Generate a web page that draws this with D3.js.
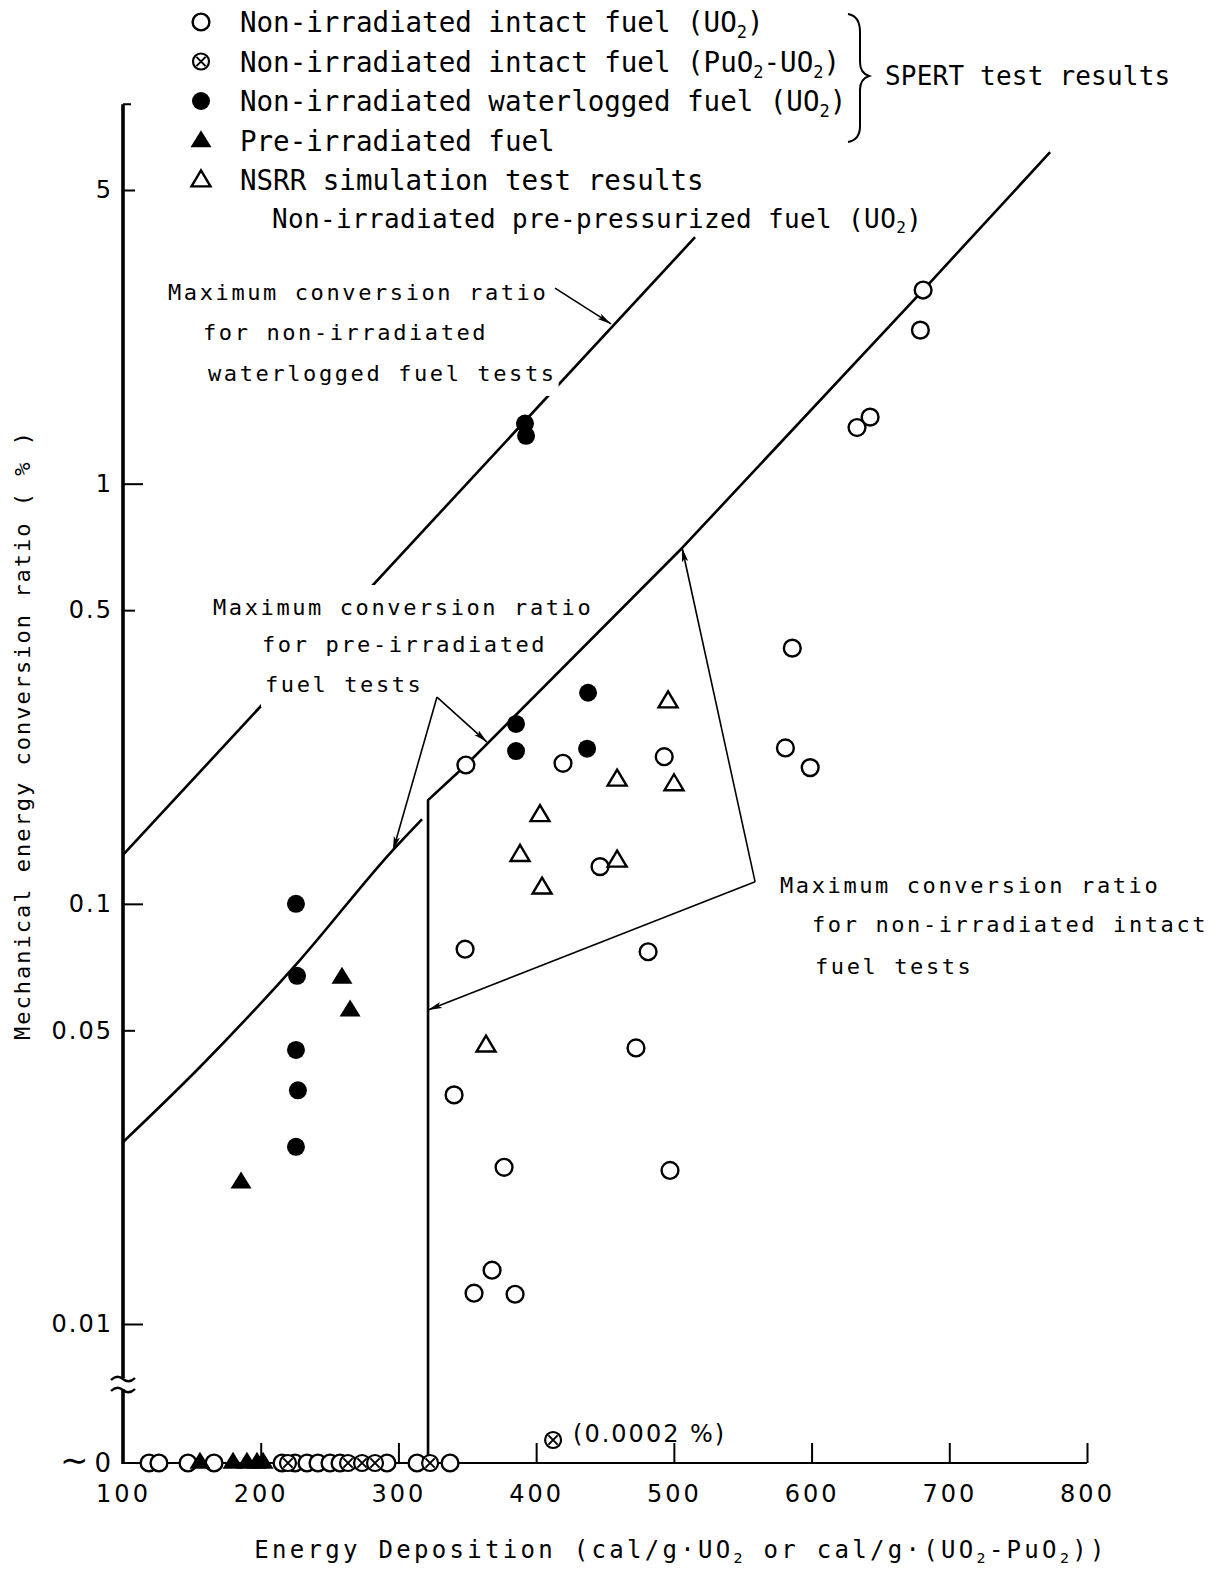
<!DOCTYPE html>
<html>
<head>
<meta charset="utf-8">
<script src="https://cdn.jsdelivr.net/npm/d3@7"></script>
<style>
  body { margin: 0; background: #fff; }
  svg { display: block; }
</style>
</head>
<body>
<svg id="chart" width="1224" height="1572"></svg>
<script>
// ---------------- data ----------------
const xTicks = [100, 200, 300, 400, 500, 600, 700, 800];
const yTicks = [5, 1, 0.5, 0.1, 0.05, 0.01];
const yTickLabels = ["5", "1", "0.5", "0.1", "0.05", "0.01"];
const yMinorTicks = [5, 0.5, 0.05];

// SPERT – non-irradiated intact fuel (UO2): [energy deposition, conversion ratio %]
const intactUO2 = [
  [681, 2.89], [679, 2.32], [642.5, 1.44], [633, 1.36], [586, 0.406],
  [581, 0.235], [599, 0.211], [493, 0.224], [419.5, 0.216], [349, 0.214],
  [446.4, 0.1226], [348.4, 0.078], [481.3, 0.0769], [472.5, 0.0454],
  [340.4, 0.0351], [376.7, 0.0236], [497.2, 0.0232], [368, 0.01343],
  [354.9, 0.01184], [384.7, 0.01177]
];
// tests with ~0 conversion ratio (energy deposition only)
const intactUO2Zero = [118.9, 126.1, 147.2, 166.1, 215.5, 224.9, 233.6, 241.6, 250.3, 257.6, 291.7, 313.5, 337.5];

// SPERT – non-irradiated intact fuel (PuO2-UO2)
const intactPuZero = [219.8, 263.4, 273.6, 283, 323];
const intactPuLow = [[412.3, 0.0002]];

// SPERT – non-irradiated waterlogged fuel (UO2)
const waterlogged = [
  [391.9, 1.39], [392.7, 1.30], [437.7, 0.318], [385.4, 0.268], [385.4, 0.231],
  [437, 0.234], [225.6, 0.1], [226.4, 0.0674], [225.6, 0.0449], [227, 0.036], [225.6, 0.0264]
];

// SPERT – pre-irradiated fuel
const preIrradiated = [[259, 0.067], [264.9, 0.056], [185.7, 0.0218]];
const preIrradiatedZero = [155.9, 179.9, 190, 197.3, 201.7];

// NSRR simulation tests – non-irradiated pre-pressurized fuel (UO2)
const nsrr = [
  [495.8, 0.304], [458.8, 0.198], [500.1, 0.193], [402.8, 0.163],
  [388.3, 0.131], [458.8, 0.127], [404.3, 0.1096], [363.6, 0.0461]
];

// envelope curves of maximum conversion ratio
const envWaterlogged = [[100, 0.1307], [515.4, 3.86]];
const envPreIrradiated = [[100, 0.0271], [155.9, 0.0409], [228.5, 0.0735], [296, 0.1343], [317.1, 0.159]];
const envIntact = [[321.5, 0], [321.5, 0.1765], [349.1, 0.214], [506, 0.703], [681, 2.89], [773.2, 6.15]];

// text
const legendLabels = [
  "Non-irradiated intact fuel (UO₂)",
  "Non-irradiated intact fuel (PuO₂-UO₂)",
  "Non-irradiated waterlogged fuel (UO₂)",
  "Pre-irradiated fuel",
  "NSRR simulation test results"
];
const legendSubLabel = "Non-irradiated pre-pressurized fuel (UO₂)";
const braceLabel = "SPERT test results";
const noteWaterlogged = ["Maximum conversion ratio", "for non-irradiated", "waterlogged fuel tests"];
const notePreIrradiated = ["Maximum conversion ratio", "for pre-irradiated", "fuel tests"];
const noteIntact = ["Maximum conversion ratio", "for non-irradiated intact", "fuel tests"];
const lowPointLabel = "(0.0002 %)";
const xTitle = "Energy Deposition (cal/g·UO₂ or cal/g·(UO₂-PuO₂))";
const yTitle = "Mechanical energy conversion ratio ( % )";

// ---------------- scales ----------------
const svg = d3.select("#chart");
const x = d3.scaleLinear().domain([100, 800]).range([123, 1087]);
const yLog = d3.scaleLog().domain([0.01, 5]).range([1324, 190]);
const yZero = d3.scaleLinear().domain([0, 0.0002]).range([1463, 1440]);
const breakValue = 0.001;
const yPos = v => (v < breakValue ? yZero(v) : yLog(v));
const yAxisTop = 8;

const ink = "#000";
const monoFont = "'DejaVu Sans Mono', 'Liberation Mono', monospace";
const numFont = "'DejaVu Sans', 'Liberation Sans', sans-serif";

// text with subscript "2"
function rich(sel, str, size) {
  const parts = str.split("₂");
  const shift = size * 0.22;
  parts.forEach((p, i) => {
    if (p) sel.append("tspan").attr("dy", i > 0 ? -shift : 0).text(p);
    else if (i > 0) sel.append("tspan").attr("dy", -shift).text("");
    if (i < parts.length - 1) {
      sel.append("tspan").attr("font-size", size * 0.62).attr("dy", shift).text("2");
    }
  });
  return sel;
}

function addText(parent, str, px, py, size, spacing, anchor) {
  const t = parent.append("text")
    .attr("x", px).attr("y", py)
    .attr("font-family", monoFont)
    .attr("font-size", size)
    .attr("letter-spacing", spacing)
    .attr("text-anchor", anchor || "start")
    .attr("fill", ink);
  return rich(t, str, size);
}

// ---------------- axes ----------------
const breakTop = yLog(0.01) + 54;
const breakBottom = breakTop + 11;
const x0 = x(100);

// x axis along the ~0 level
svg.append("line")
  .attr("x1", x0).attr("x2", x(800))
  .attr("y1", yZero(0)).attr("y2", yZero(0))
  .attr("stroke", ink).attr("stroke-width", 2.2);

const xAxis = d3.axisBottom(x).tickValues(xTicks).tickSize(-20).tickPadding(22).tickFormat(d3.format("d"));
const gx = svg.append("g").attr("transform", `translate(0,${yZero(0)})`).call(xAxis);
gx.select(".domain").remove();
gx.selectAll(".tick line").attr("stroke", ink).attr("stroke-width", 2);
gx.selectAll(".tick").filter(d => d === 100).select("line").remove();
gx.selectAll(".tick text")
  .attr("font-family", numFont).attr("font-size", 24).attr("letter-spacing", 3)
  .attr("fill", ink);

// y axis (log, with a break above the ~0 level)
const yAxis = d3.axisLeft(yLog).tickValues(yTicks)
  .tickFormat((d, i) => yTickLabels[i]).tickSize(-20).tickPadding(10);
const gy = svg.append("g").attr("transform", `translate(${x0},0)`).call(yAxis);
gy.select(".domain").remove();
gy.selectAll(".tick line").attr("stroke", ink).attr("stroke-width", 2);
gy.selectAll(".tick").filter(d => yMinorTicks.includes(d)).select("line").attr("x2", 12);
gy.selectAll(".tick text")
  .attr("font-family", numFont).attr("font-size", 24).attr("letter-spacing", 2)
  .attr("fill", ink);

svg.append("line")
  .attr("x1", x0).attr("x2", x0)
  .attr("y1", yLog(yAxisTop)).attr("y2", breakTop)
  .attr("stroke", ink).attr("stroke-width", 3.6);
svg.append("line")
  .attr("x1", x0).attr("x2", x0)
  .attr("y1", breakBottom).attr("y2", yZero(0) + 1)
  .attr("stroke", ink).attr("stroke-width", 3.6);
svg.append("line")
  .attr("x1", x0).attr("x2", x0 + 8)
  .attr("y1", yLog(yAxisTop)).attr("y2", yLog(yAxisTop))
  .attr("stroke", ink).attr("stroke-width", 2);
[breakTop, breakBottom].forEach(by => {
  svg.append("path")
    .attr("d", `M${x0 - 12},${by + 2} q6,-6 12,-1 t12,-1`)
    .attr("fill", "none").attr("stroke", ink).attr("stroke-width", 2.4);
});

// "~ 0" label for the zero level
const zl = svg.append("text")
  .attr("x", x0 - 12).attr("y", yZero(0) + 9)
  .attr("text-anchor", "end")
  .attr("font-family", numFont).attr("font-size", 26).attr("fill", ink);
zl.append("tspan").attr("font-size", 34).text("∼");
zl.append("tspan").attr("dx", 6).text("0");

// axis titles
addText(svg, xTitle, 681, 1558, 24, 3.3, "middle");
svg.append("text")
  .attr("transform", `translate(30,735) rotate(-90)`)
  .attr("font-family", monoFont).attr("font-size", 22)
  .attr("letter-spacing", 2).attr("text-anchor", "middle")
  .attr("fill", ink).text(yTitle);

// ---------------- envelope curves ----------------
const lineStraight = d3.line().x(d => x(d[0])).y(d => yPos(d[1]));
const lineSmooth = d3.line().x(d => x(d[0])).y(d => yPos(d[1])).curve(d3.curveMonotoneX);
[[envWaterlogged, lineStraight], [envPreIrradiated, lineSmooth], [envIntact, lineStraight]].forEach(([env, gen]) => {
  svg.append("path").attr("d", gen(env))
    .attr("fill", "none").attr("stroke", ink)
    .attr("stroke-width", 2.6).attr("stroke-linejoin", "round");
});

// ---------------- notes (on a white ground that interrupts the curves) ----------------
function note(lines, xs, ys) {
  const g = svg.append("g");
  lines.forEach((s, i) => {
    const t = addText(g, s, xs[i], ys[i], 22, 2.6);
    const b = t.node().getBBox();
    g.insert("rect", "text")
      .attr("x", b.x - 4).attr("y", b.y - 10)
      .attr("width", b.width + 6).attr("height", b.height + 20)
      .attr("fill", "#fff");
  });
}
note(noteWaterlogged, [168, 203, 208], [300, 340, 381]);
note(notePreIrradiated, [213, 262, 265], [615, 652, 692]);
note(noteIntact, [780, 812, 815], [893, 932, 974]);

// ---------------- annotation leaders ----------------
svg.append("defs").append("marker")
  .attr("id", "arrow").attr("viewBox", "-14 -4 16 8")
  .attr("refX", 0).attr("refY", 0)
  .attr("markerWidth", 16).attr("markerHeight", 8)
  .attr("markerUnits", "userSpaceOnUse").attr("orient", "auto")
  .append("path").attr("d", "M0,0L-14,-3.2L-11,0L-14,3.2Z").attr("fill", ink);

const leaders = [
  [[413.7, 2.92], [454.4, 2.40]],
  [[328, 0.3105], [296.1, 0.134]],
  [[328, 0.3105], [364.3, 0.2427]],
  [[559, 0.1128], [506, 0.703]],
  [[559, 0.1128], [321.5, 0.0559]]
];
leaders.forEach(([a, b]) => {
  svg.append("line")
    .attr("x1", x(a[0])).attr("y1", yPos(a[1]))
    .attr("x2", x(b[0])).attr("y2", yPos(b[1]))
    .attr("stroke", ink).attr("stroke-width", 1.6)
    .attr("marker-end", "url(#arrow)");
});

// ---------------- markers ----------------
const triPath = (w, h) => `M0,${-h * 0.6}L${w / 2},${h * 0.4}L${-w / 2},${h * 0.4}Z`;

function openCircle(g, px, py) {
  g.append("circle").attr("cx", px).attr("cy", py).attr("r", 8.4)
    .attr("fill", "#fff").attr("stroke", ink).attr("stroke-width", 2.4);
}
function filledCircle(g, px, py) {
  g.append("circle").attr("cx", px).attr("cy", py).attr("r", 9).attr("fill", ink);
}
function crossCircle(g, px, py) {
  g.append("circle").attr("cx", px).attr("cy", py).attr("r", 8)
    .attr("fill", "#fff").attr("stroke", ink).attr("stroke-width", 2.2);
  const k = 4.6;
  g.append("path")
    .attr("d", `M${px - k},${py - k}L${px + k},${py + k}M${px + k},${py - k}L${px - k},${py + k}`)
    .attr("stroke", ink).attr("stroke-width", 2);
}
function filledTriangle(g, px, py) {
  g.append("path").attr("d", triPath(21, 17)).attr("transform", `translate(${px},${py})`).attr("fill", ink);
}
function openTriangle(g, px, py) {
  g.append("path").attr("d", triPath(19, 16)).attr("transform", `translate(${px},${py})`)
    .attr("fill", "#fff").attr("stroke", ink).attr("stroke-width", 2.4).attr("stroke-linejoin", "miter");
}

const marks = svg.append("g");
intactUO2.forEach(d => openCircle(marks, x(d[0]), yPos(d[1])));
waterlogged.forEach(d => filledCircle(marks, x(d[0]), yPos(d[1])));
preIrradiated.forEach(d => filledTriangle(marks, x(d[0]), yPos(d[1])));
nsrr.forEach(d => openTriangle(marks, x(d[0]), yPos(d[1])));
intactPuLow.forEach(d => crossCircle(marks, x(d[0]), yPos(d[1])));

const zeroRow = svg.append("g");
intactUO2Zero.forEach(v => openCircle(zeroRow, x(v), yPos(0)));
intactPuZero.forEach(v => crossCircle(zeroRow, x(v), yPos(0)));
preIrradiatedZero.forEach(v => filledTriangle(zeroRow, x(v), yPos(0) - 1));

svg.append("text")
  .attr("x", x(intactPuLow[0][0]) + 20).attr("y", yPos(intactPuLow[0][1])).attr("dy", "0.1em")
  .attr("font-family", numFont).attr("font-size", 24).attr("letter-spacing", 2)
  .attr("fill", ink).text(lowPointLabel);

// ---------------- legend ----------------
const legendDraw = [openCircle, crossCircle, filledCircle, filledTriangle, openTriangle];
legendLabels.forEach((s, i) => {
  const ly = 22 + i * 39.5;
  legendDraw[i](svg, 201, ly);
  addText(svg, s, 240, ly + 10, 27.5, 0);
});
addText(svg, legendSubLabel, 272, 22 + 5 * 39.5 + 8, 26, 0.35);

svg.append("path")
  .attr("d", "M848,14 Q860,16 860,32 L860,62 Q860,73 869,76 Q860,79 860,90 L860,126 Q860,140 848,142")
  .attr("fill", "none").attr("stroke", ink).attr("stroke-width", 2);
addText(svg, braceLabel, 885, 85, 26, 0.2);
</script>
</body>
</html>
